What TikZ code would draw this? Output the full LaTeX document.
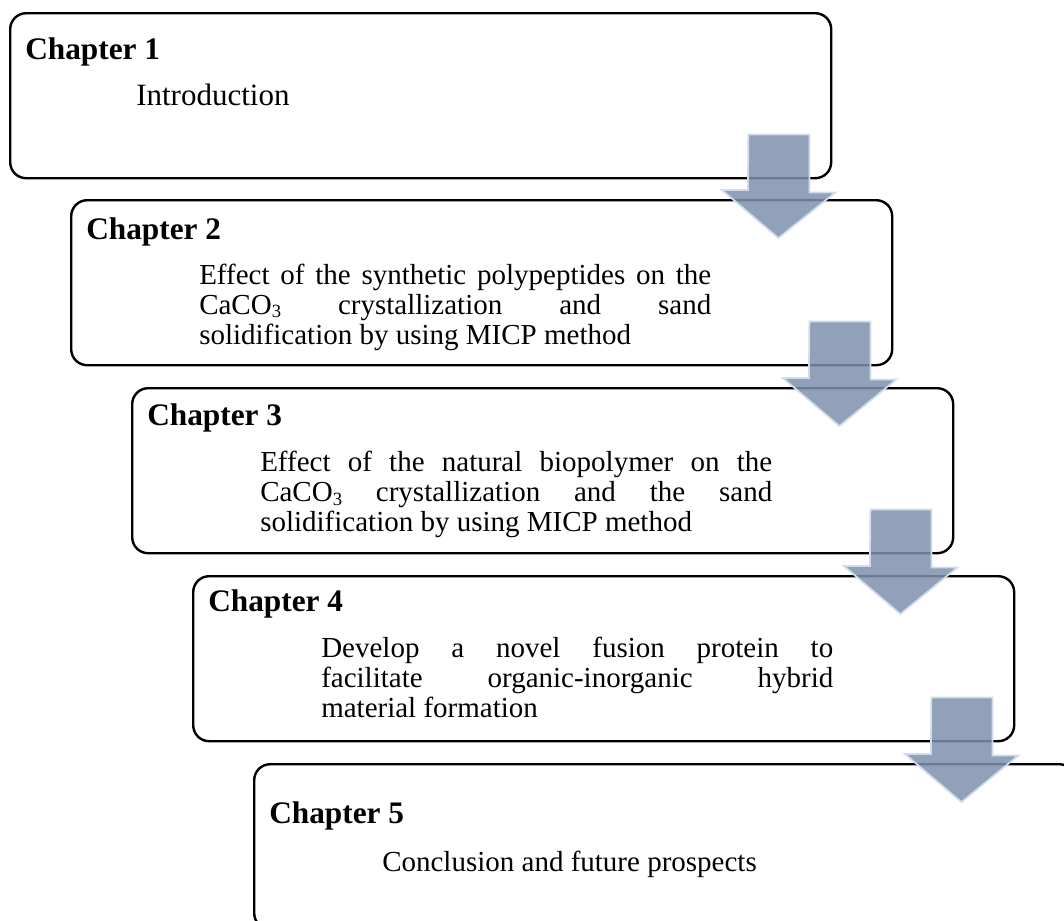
\documentclass[tikz,border=0pt]{standalone}
\usepackage{fontspec}
\setmainfont{Liberation Serif}
\usetikzlibrary{positioning,calc}
\definecolor{arrowfill}{RGB}{125,145,173}
\definecolor{arrowedge}{RGB}{208,220,236}
\hbadness=10000
\newcommand{\lowthree}{\raisebox{-0.3ex}{\fontsize{14pt}{14pt}\selectfont 3}}

\tikzset{
  chapbox/.style={draw=black,line width=1.8pt,rounded corners=12pt,minimum width=615.75pt,minimum height=123.75pt,anchor=north west,inner sep=0pt},
  chaptitle/.style={anchor=base west,inner sep=0pt,font=\fontsize{23.5pt}{28pt}\selectfont\bfseries},
  chaptext/.style={anchor=base west,inner sep=0pt,text width=384pt,align=justify,font=\fontsize{21.75pt}{22.5pt}\selectfont},
  chaparrow/.style={fill=arrowfill,fill opacity=0.85,draw=arrowedge,line width=1.3pt,line join=miter}
}

\begin{document}
\begin{tikzpicture}[x=0.75pt,y=-0.75pt]
	\useasboundingbox (0,0) rectangle (1064,921);
	\clip (0,0) rectangle (1064,921);
	% chapter boxes
	\node[chapbox] (ch1) at (9,12) {};
	\node[chapbox] (ch2) at ([shift={(61,187)}]ch1.north west) {};
	\node[chapbox] (ch3) at ([shift={(61,188)}]ch2.north west) {};
	\node[chapbox] (ch4) at ([shift={(61,188)}]ch3.north west) {};
	\node[chapbox] (ch5) at ([shift={(61,188)}]ch4.north west) {};
	% titles and texts
	\node[chaptitle] (t1) at ([shift={(16,47)}]ch1.north west) {Chapter 1};
	\node[chaptext,font=\fontsize{23.25pt}{28pt}\selectfont] (x1) at ([shift={(127,93)}]ch1.north west) {Introduction};
	\node[chaptitle] (t2) at ([shift={(16,40)}]ch2.north west) {Chapter 2};
	\node[chaptext] (x2) at ([shift={(129,85)}]ch2.north west) {Effect of the synthetic polypeptides on the\linebreak CaCO\lowthree{} crystallization and sand\linebreak solidification by using MICP method};
	\node[chaptitle] (t3) at ([shift={(16,38)}]ch3.north west) {Chapter 3};
	\node[chaptext] (x3) at ([shift={(129,84)}]ch3.north west) {Effect of the natural biopolymer on the\linebreak CaCO\lowthree{} crystallization and the sand\linebreak solidification by using MICP method};
	\node[chaptitle] (t4) at ([shift={(16,36)}]ch4.north west) {Chapter 4};
	\node[chaptext] (x4) at ([shift={(129,82)}]ch4.north west) {Develop a novel fusion protein to\linebreak facilitate organic-inorganic hybrid\linebreak material formation};
	\node[chaptitle] (t5) at ([shift={(16,60)}]ch5.north west) {Chapter 5};
	\node[chaptext] (x5) at ([shift={(129,108)}]ch5.north west) {Conclusion and future prospects};
	% block arrows between chapters
	\foreach \src/\dst in {ch1/ch2,ch2/ch3,ch3/ch4,ch4/ch5}
		\draw[chaparrow] ($(\src.south east)+(-84,-45)$) -- ++(61,0) -- ++(0,58) -- ++(26,0)
			-- ($(\dst.north east)+(-115,39)$) -- ++(-56.5,-48) -- ++(26,0) -- cycle;
\end{tikzpicture}
\end{document}
